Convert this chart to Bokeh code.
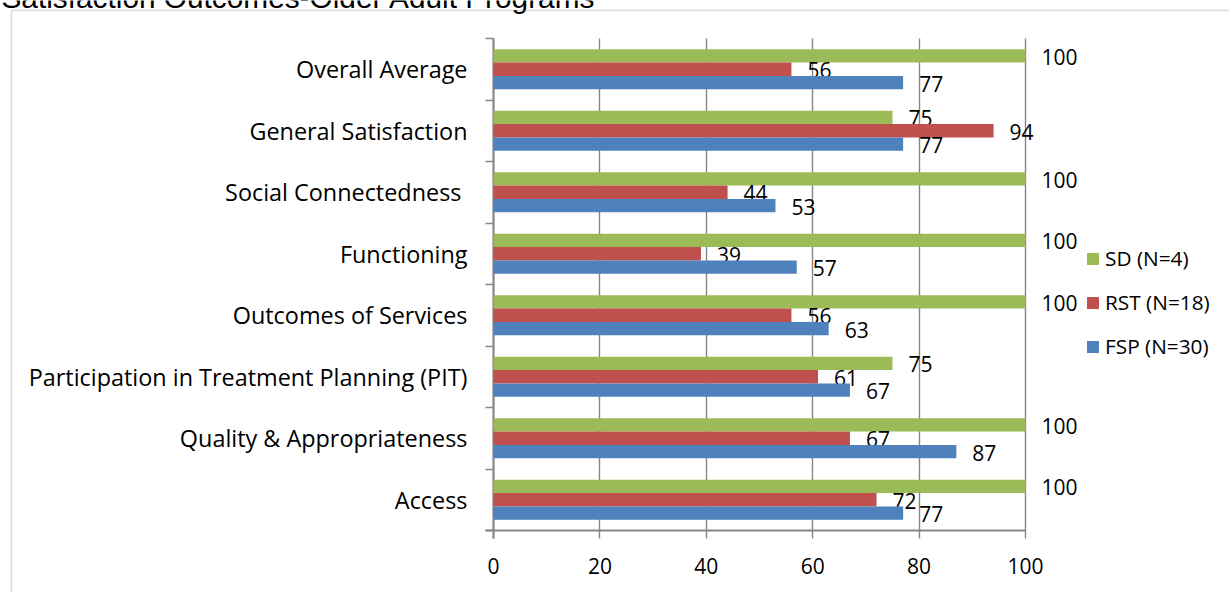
from bokeh.plotting import figure
from bokeh.models import (Range1d, FixedTicker, Grid, Legend, LegendItem, Label, PolyAnnotation,
                          ColumnDataSource)
from bokeh.transform import dodge
from bokeh.core.properties import value
from bokeh.embed import file_html
from bokeh.resources import INLINE

title = "Satisfaction Outcomes-Older Adult Programs"
categories = ["Overall Average", "General Satisfaction", "Social Connectedness ", "Functioning",
              "Outcomes of Services", "Participation in Treatment Planning (PIT)",
              "Quality & Appropriateness", "Access"]
series_names = ["SD (N=4)", "RST (N=18)", "FSP (N=30)"]
sd = [100, 75, 100, 100, 100, 75, 100, 100]
rst = [56, 94, 44, 39, 56, 61, 67, 72]
fsp = [77, 77, 53, 57, 63, 67, 87, 77]
x_ticks = [0, 20, 40, 60, 80, 100]

# ---- styling / layout constants ----
W, H = 1229, 592
X0_PX, PX_PER_X = 493, 5.32        # pixel of value 0, pixels per unit
Y0_PX, PX_PER_CAT = 530, 61.5      # pixel of category-axis bottom, pixels per category
colors = ["#9BBB59", "#C0504D", "#4F81BD"]
offsets = [0.216, 0.0, -0.216]
bar_h = 0.216
FONT = "Open Sans"
GRID = "#868686"

n = len(categories)
pos = [n - i - 0.5 for i in range(n)]  # first category drawn at the top
src = ColumnDataSource(dict(pos=pos, sd=sd, rst=rst, fsp=fsp,
                            sd_t=[str(v) for v in sd], rst_t=[str(v) for v in rst],
                            fsp_t=[str(v) for v in fsp]))
cat_src = ColumnDataSource(dict(pos=pos, cat=categories, zero=[0] * n))
tick_src = ColumnDataSource(dict(x=x_ticks, lab=[str(t) for t in x_ticks], zero=[0] * len(x_ticks)))

x_range = Range1d(-X0_PX / PX_PER_X, (W - X0_PX) / PX_PER_X)
y_range = Range1d(-(H - Y0_PX) / PX_PER_CAT, Y0_PX / PX_PER_CAT)

p = figure(width=W, height=H, x_range=x_range, y_range=y_range,
           output_backend="svg", toolbar_location=None,
           x_axis_location=None, y_axis_location=None,
           min_border_left=0, min_border_right=0, min_border_top=0, min_border_bottom=0)
p.outline_line_color = None
for g in p.grid:
    g.visible = False

tick_len_y = 8 / PX_PER_CAT
tick_len_x = 8 / PX_PER_X
# value gridlines (extending down as tick marks)
p.add_layout(Grid(dimension=0, ticker=FixedTicker(ticks=x_ticks), cross_bounds=(-tick_len_y, n),
                  grid_line_color=GRID, grid_line_width=1.4))
# category boundary tick marks
p.add_layout(Grid(dimension=1, ticker=FixedTicker(ticks=list(range(n + 1))),
                  cross_bounds=(-tick_len_x, 0), grid_line_color=GRID, grid_line_width=1.4))
# axis lines
p.add_layout(Grid(dimension=0, ticker=FixedTicker(ticks=[0]), cross_bounds=(-tick_len_y, n),
                  grid_line_color=GRID, grid_line_width=2))
p.add_layout(Grid(dimension=1, ticker=FixedTicker(ticks=[0]), cross_bounds=(-tick_len_x, x_ticks[-1]),
                  grid_line_color=GRID, grid_line_width=2))

# category labels
p.text(x="zero", y="pos", text="cat", source=cat_src, x_offset=-26, text_align="right",
       text_baseline="middle", text_font=value(FONT), text_font_size="23.4px", text_color="#000000")
# value tick labels
p.text(x="x", y="zero", text="lab", source=tick_src, y_offset=35, text_align="center",
       text_baseline="middle", text_font=value(FONT), text_font_size="21px", text_color="#000000")

renderers = []
for key, col, off in zip(["sd", "rst", "fsp"], colors, offsets):
    r = p.hbar(y=dodge("pos", off), left=0, right=key, height=bar_h,
               fill_color=col, line_color=None, source=src)
    renderers.append(r)
    p.text(x=key, y=dodge("pos", off), text=key + "_t", source=src,
           x_offset=16, y_offset=1, text_baseline="middle", text_align="left",
           text_font=value(FONT), text_font_size="21px", text_color="#000000")

legend = Legend(items=[LegendItem(label=nm, renderers=[r]) for nm, r in zip(series_names, renderers)],
                location=(1085, 232), glyph_width=15, glyph_height=15, label_standoff=5,
                spacing=16, padding=0, margin=0, border_line_color=None,
                background_fill_alpha=0, label_text_font=FONT, label_text_font_size="20.8px",
                label_text_color="#000000", label_height=20)
p.add_layout(legend)

p.add_layout(Label(x=1, y=H + 3, x_units="screen", y_units="screen", text=title,
                   text_font="Liberation Sans", text_font_size="29.8px",
                   text_baseline="alphabetic", text_color="#000000"))

p.add_layout(PolyAnnotation(xs=[11, 11, W + 100, W + 100], ys=[-100, H - 10, H - 10, -100],
                            xs_units="screen", ys_units="screen", fill_alpha=0,
                            line_color="#888888", line_width=1.5))

open("out.html", "w").write(file_html(p, INLINE))
